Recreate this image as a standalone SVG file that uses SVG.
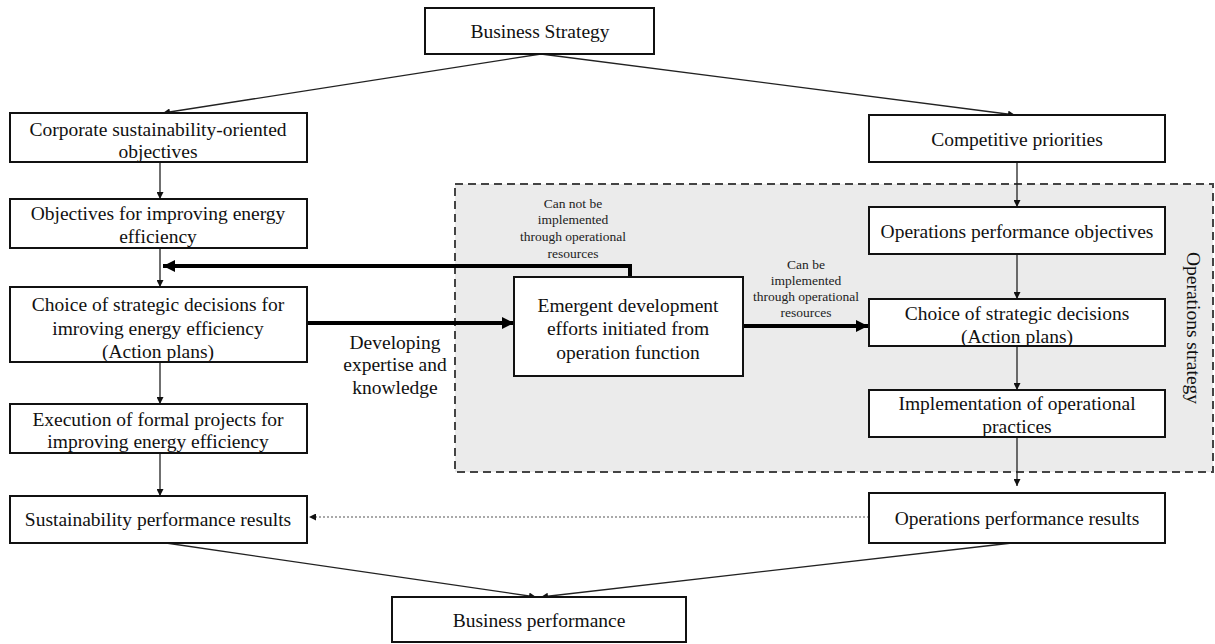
<svg xmlns="http://www.w3.org/2000/svg" width="1215" height="644" viewBox="0 0 1215 644" font-family="'Liberation Serif','DejaVu Serif','Noto Serif',serif">
<style>
text{font-family:"Liberation Serif","DejaVu Serif","Noto Serif",serif}
.box{fill:#fff;stroke:#111;stroke-width:2}
.t{font-size:19.5px;fill:#111;text-anchor:middle;dominant-baseline:central}
.s{font-size:13.5px;fill:#222;text-anchor:middle;dominant-baseline:central}
.e{font-size:19.5px;fill:#111;text-anchor:middle;dominant-baseline:central}
.thin{fill:none;stroke:#222;stroke-width:1.3}
.thick{fill:none;stroke:#000;stroke-width:4}
.dot{fill:none;stroke:#555;stroke-width:1.2;stroke-dasharray:2,2}
</style>
<defs>
<marker id="a" viewBox="0 0 10 10" refX="10" refY="5" markerWidth="7" markerHeight="7" markerUnits="userSpaceOnUse" orient="auto"><path d="M0,0L10,5L0,10z" fill="#111"/></marker>
<marker id="b" viewBox="0 0 10 10" refX="10" refY="5" markerWidth="14" markerHeight="12" markerUnits="userSpaceOnUse" orient="auto"><path d="M0,0L10,5L0,10z" fill="#000"/></marker>
</defs>
<rect width="1215" height="644" fill="#fff"/>
<g id="operations-strategy">
<rect x="455" y="184" width="758" height="288" fill="#ebebeb" stroke="#444" stroke-width="2" stroke-dasharray="8,5"/>
<text class="t" transform="translate(1193,328) rotate(90)">Operations strategy</text>
</g>
<g id="connectors">
<line class="thin" x1="541" y1="54" x2="163" y2="113" marker-end="url(#a)"/>
<line class="thin" x1="541" y1="54" x2="1015" y2="115" marker-end="url(#a)"/>
<line class="thin" x1="160" y1="162" x2="160" y2="199" marker-end="url(#a)"/>
<line class="thin" x1="160" y1="248" x2="160" y2="287" marker-end="url(#a)"/>
<line class="thin" x1="160" y1="362" x2="160" y2="404" marker-end="url(#a)"/>
<line class="thin" x1="160" y1="453" x2="160" y2="496" marker-end="url(#a)"/>
<line class="thin" x1="1017" y1="162" x2="1017" y2="207" marker-end="url(#a)"/>
<line class="thin" x1="1017" y1="254" x2="1017" y2="299" marker-end="url(#a)"/>
<line class="thin" x1="1017" y1="346" x2="1017" y2="390" marker-end="url(#a)"/>
<line class="thin" x1="1017" y1="437" x2="1017" y2="486" marker-end="url(#a)"/>
<path class="thick" d="M630,277V266H163" marker-end="url(#b)"/>
<path class="thick" d="M307,323H514" marker-end="url(#b)"/>
<path class="thick" d="M743,326H868" marker-end="url(#b)"/>
<path class="dot" d="M869,517H309" marker-end="url(#a)"/>
<line class="thin" x1="166" y1="543" x2="536" y2="597" marker-end="url(#a)"/>
<line class="thin" x1="1012" y1="543" x2="541" y2="597" marker-end="url(#a)"/>
<text class="s" x="573" y="203">Can not be</text>
<text class="s" x="573" y="219">implemented</text>
<text class="s" x="573" y="236">through operational</text>
<text class="s" x="573" y="253">resources</text>
<text class="s" x="806" y="264">Can be</text>
<text class="s" x="806" y="280">implemented</text>
<text class="s" x="806" y="296">through operational</text>
<text class="s" x="806" y="312">resources</text>
<text class="t" x="395" y="342">Developing</text>
<text class="t" x="395" y="364">expertise and</text>
<text class="t" x="395" y="387">knowledge</text>
</g>
<g id="business-strategy">
<rect class="box" x="425" y="8" width="229" height="46"/>
<text class="t" x="540" y="31">Business Strategy</text>
</g>
<g id="corporate-objectives">
<rect class="box" x="10" y="113" width="297" height="49"/>
<text class="t" x="158" y="129">Corporate sustainability-oriented</text>
<text class="t" x="158" y="151">objectives</text>
</g>
<g id="energy-objectives">
<rect class="box" x="10" y="199" width="297" height="49"/>
<text class="t" x="158" y="213">Objectives  for improving energy</text>
<text class="t" x="158" y="236">efficiency</text>
</g>
<g id="energy-choice">
<rect class="box" x="10" y="287" width="297" height="75"/>
<text class="t" x="158" y="304">Choice of strategic  decisions for</text>
<text class="t" x="158" y="328">imroving energy efficiency</text>
<text class="t" x="158" y="351">(Action plans)</text>
</g>
<g id="execution">
<rect class="box" x="10" y="404" width="297" height="49"/>
<text class="t" x="158" y="419">Execution  of formal projects for</text>
<text class="t" x="158" y="441">improving energy efficiency</text>
</g>
<g id="sustainability-results">
<rect class="box" x="10" y="496" width="297" height="47"/>
<text class="t" x="158" y="519">Sustainability  performance results</text>
</g>
<g id="competitive-priorities">
<rect class="box" x="869" y="115" width="296" height="47"/>
<text class="t" x="1017" y="139">Competitive priorities</text>
</g>
<g id="ops-objectives">
<rect class="box" x="869" y="207" width="296" height="47"/>
<text class="t" x="1017" y="231">Operations performance objectives</text>
</g>
<g id="ops-choice">
<rect class="box" x="869" y="299" width="296" height="47"/>
<text class="t" x="1017" y="313">Choice of strategic  decisions</text>
<text class="t" x="1017" y="336">(Action plans)</text>
</g>
<g id="implementation">
<rect class="box" x="869" y="390" width="296" height="47"/>
<text class="t" x="1017" y="403">Implementation  of operational</text>
<text class="t" x="1017" y="426">practices</text>
</g>
<g id="ops-results">
<rect class="box" x="869" y="493" width="296" height="50"/>
<text class="t" x="1017" y="518">Operations performance results</text>
</g>
<g id="emergent">
<rect class="box" x="514" y="277" width="229" height="99"/>
<text class="e" x="628" y="305">Emergent  development</text>
<text class="e" x="628" y="328">efforts initiated  from</text>
<text class="e" x="628" y="352">operation function</text>
</g>
<g id="business-performance">
<rect class="box" x="392" y="597" width="294" height="45"/>
<text class="t" x="539" y="620">Business performance</text>
</g>
</svg>
